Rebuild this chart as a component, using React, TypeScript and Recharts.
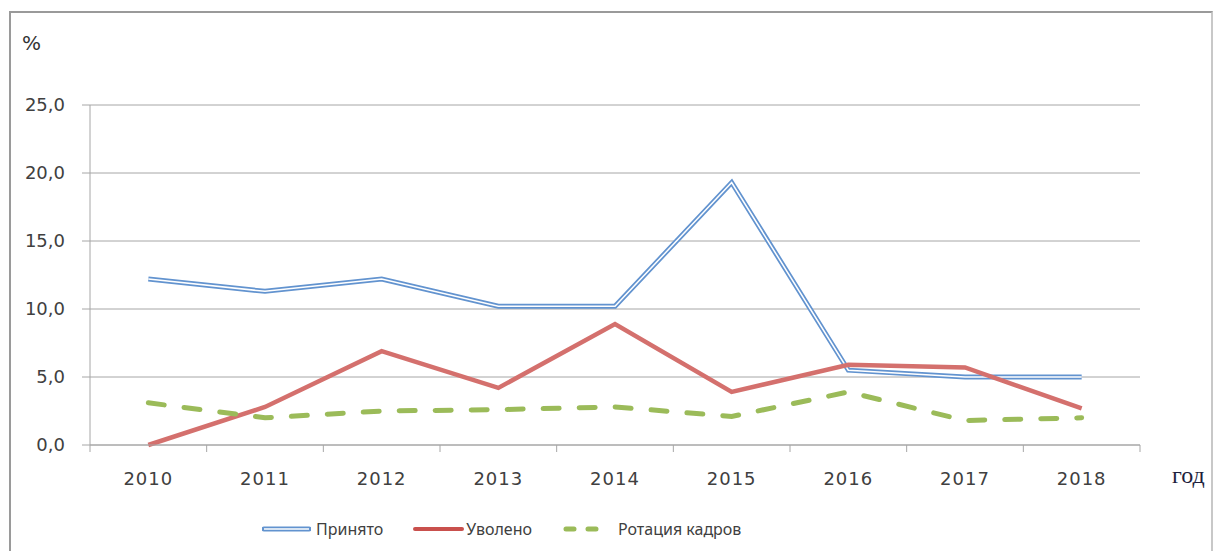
import React from 'react';
import { LineChart, Line, XAxis, YAxis, CartesianGrid, Legend } from 'recharts';

const years = ['2010', '2011', '2012', '2013', '2014', '2015', '2016', '2017', '2018'];
const hired = [12.2, 11.3, 12.2, 10.2, 10.2, 19.3, 5.5, 5.0, 5.0];
const fired = [0.0, 2.8, 6.9, 4.2, 8.9, 3.9, 5.9, 5.7, 2.7];
const rotation = [3.1, 2.0, 2.5, 2.6, 2.8, 2.1, 3.9, 1.8, 2.0];
const yTicks = [0, 5, 10, 15, 20, 25];

const data = years.map((year, i) => ({
  i,
  year,
  hired: hired[i],
  fired: fired[i],
  rotation: rotation[i],
}));

// tick marks sit on the category boundaries, labels in the middle of each band
const boundaries = [...years.map((_, i) => i - 0.5), years.length - 0.5];

const W = 1213;
const H = 551;
const MARGIN = { top: 105, right: 73, bottom: 2, left: 0 };
const Y_W = 90;
const HALF_STEP = (W - MARGIN.left - MARGIN.right - Y_W) / years.length / 2;

const BLUE = '#6293cf';
const RED = '#c9504d';
const RED_LINE = '#d4706d';
const GREEN = '#9bbb59';
const GRID = '#a6a6a6';
const TEXT = '#404040';
const FONT = '"DejaVu Sans", sans-serif';

const fmt = (v: number) => v.toFixed(1).replace('.', ',');

const YearTick = (props: any) => {
  const { x, y, payload } = props;
  const idx = Math.round(payload.value + 0.5);
  if (idx < 0 || idx >= years.length) return <g />;
  return (
    <text
      x={x + HALF_STEP}
      y={y}
      dy="0.71em"
      textAnchor="middle"
      fill={TEXT}
      fontSize={18}
      fontFamily={FONT}
      letterSpacing={1}
    >
      {years[idx]}
    </text>
  );
};

const LegendContent = () => {
  const item: React.CSSProperties = { display: 'flex', alignItems: 'center' };
  const label: React.CSSProperties = { fontFamily: '"Noto Sans", sans-serif', fontSize: 16, color: TEXT };
  return (
    <div style={{ height: 40, display: 'flex', alignItems: 'center', paddingLeft: 262 }}>
      <div style={item}>
        <svg width={49} height={10}>
          <line x1={2} y1={5} x2={47} y2={5} stroke={BLUE} strokeWidth={5} strokeLinecap="round" />
          <line x1={2} y1={5} x2={47} y2={5} stroke="#fff" strokeWidth={1.5} />
        </svg>
        <span style={{ ...label, marginLeft: 5 }}>Принято</span>
      </div>
      <div style={{ ...item, marginLeft: 30 }}>
        <svg width={51} height={10}>
          <line x1={2} y1={5} x2={49} y2={5} stroke={RED} strokeWidth={4} strokeLinecap="round" />
        </svg>
        <span style={{ ...label, marginLeft: 2 }}>Уволено</span>
      </div>
      <div style={{ ...item, marginLeft: 31 }}>
        <svg width={36} height={10}>
          <line x1={3} y1={5} x2={33} y2={5} stroke={GREEN} strokeWidth={5} strokeLinecap="round" strokeDasharray="8 14" />
        </svg>
        <span style={{ ...label, marginLeft: 19 }}>Ротация кадров</span>
      </div>
    </div>
  );
};

const App: React.FC = () => {
  return (
    <div style={{ position: 'absolute', left: 0, top: 0, width: W, height: H, overflow: 'hidden', background: '#fff' }}>
      <div
        style={{
          position: 'absolute',
          left: 9,
          top: 11,
          width: 1200,
          height: 600,
          borderLeft: '2px solid #9a9a9a',
          borderTop: '2px solid #9a9a9a',
          borderRight: '2px solid #c8c8c8',
        }}
      />
      <div style={{ position: 'absolute', left: 22, top: 31, fontFamily: FONT, fontSize: 20, color: '#333' }}>%</div>
      <div
        style={{
          position: 'absolute',
          left: 1172,
          top: 462,
          fontFamily: '"Liberation Serif", serif',
          fontSize: 24,
          color: '#1e1e3c',
        }}
      >
        год
      </div>
      <div style={{ position: 'absolute', left: 0, top: 0 }}>
        <LineChart width={W} height={H} data={data} margin={MARGIN}>
          <CartesianGrid horizontal vertical={false} stroke={GRID} />
          <XAxis
            dataKey="i"
            type="number"
            domain={[-0.5, years.length - 0.5]}
            ticks={boundaries}
            interval={0}
            allowDecimals
            tick={<YearTick />}
            tickSize={7}
            tickMargin={20}
            height={64}
            stroke={GRID}
            axisLine={{ stroke: GRID }}
            tickLine={{ stroke: GRID }}
          />
          <YAxis
            domain={[0, 25]}
            ticks={yTicks}
            interval={0}
            tickFormatter={fmt}
            width={Y_W}
            tickSize={8}
            tickMargin={17}
            axisLine={{ stroke: GRID }}
            tickLine={{ stroke: GRID }}
            tick={{ fill: TEXT, fontSize: 18, fontFamily: FONT }}
          />
          <Legend verticalAlign="bottom" content={<LegendContent />} wrapperStyle={{ left: 0, width: W, bottom: 2 }} />
          <Line type="linear" dataKey="hired" stroke={BLUE} strokeWidth={5} dot={false} isAnimationActive={false} legendType="none" />
          <Line type="linear" dataKey="hired" stroke="#fff" strokeWidth={1.5} dot={false} isAnimationActive={false} legendType="none" />
          <Line type="linear" dataKey="fired" stroke={RED_LINE} strokeWidth={4.5} dot={false} isAnimationActive={false} />
          <Line
            type="linear"
            dataKey="rotation"
            stroke={GREEN}
            strokeWidth={5}
            strokeDasharray="16 20"
            strokeLinecap="round"
            dot={false}
            isAnimationActive={false}
          />
        </LineChart>
      </div>
    </div>
  );
};

export default App;
